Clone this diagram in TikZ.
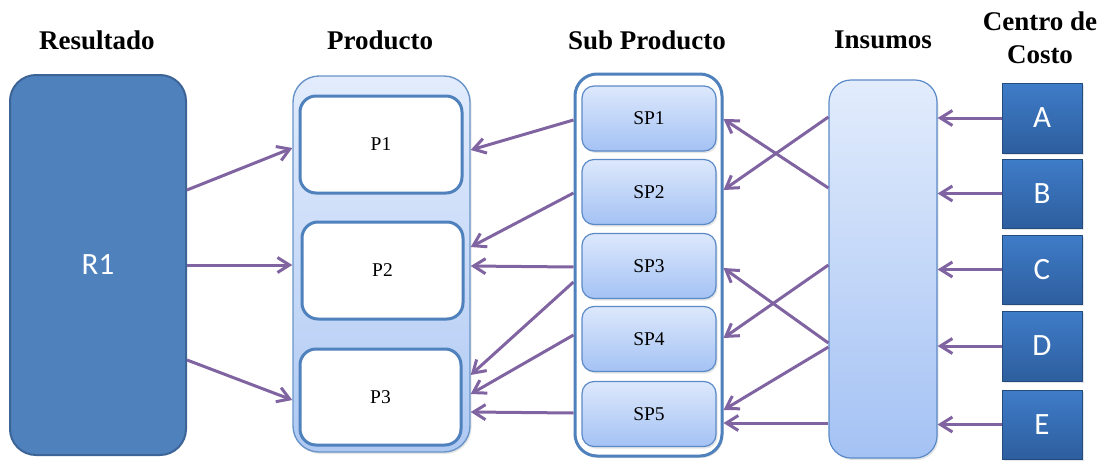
\documentclass[tikz,border=0pt]{standalone}
\usepackage{fontspec}
\setmainfont{Liberation Serif}
\newfontfamily\calfont{Carlito}
\usetikzlibrary{arrows.meta,shadows}
\definecolor{rblue}{HTML}{4F81BD}
\definecolor{rborder}{HTML}{3C6496}
\definecolor{arr}{HTML}{8064A2}
\definecolor{lighttop}{HTML}{E2ECFC}
\definecolor{lightbot}{HTML}{AFC9F3}
\definecolor{sptop}{HTML}{DDE8FC}
\definecolor{spbot}{HTML}{A4C2F4}
\definecolor{spborder}{HTML}{5B8AC8}
\definecolor{cctop}{HTML}{3F7CC8}
\definecolor{ccbot}{HTML}{2D5E9E}
\tikzset{
  header/.style={font=\bfseries\fontsize{27}{33}\selectfont, align=center},
  softshadow/.style={drop shadow={opacity=0.2, shadow xshift=1.5pt, shadow yshift=-2pt}},
  pbox/.style={draw=rblue, line width=3pt, fill=white, rounded corners=16pt,
    font=\fontsize{19.5}{21}\selectfont, inner sep=0pt},
  spbox/.style={draw=spborder, line width=1.2pt, top color=sptop, bottom color=spbot,
    rounded corners=12pt, minimum width=134pt, minimum height=65pt,
    font=\fontsize{19.5}{21}\selectfont, inner sep=0pt, softshadow},
  ccbox/.style={draw=ccbot!80!black, line width=0.6pt, top color=cctop, bottom color=ccbot,
    minimum width=80pt, minimum height=69pt, text=white,
    font=\calfont\fontsize{31}{33}\selectfont, inner sep=0pt, softshadow},
  link/.style={draw=arr, line width=3pt, -{Straight Barb[length=12pt,width=15pt,line width=3pt]}}
}
\begin{document}
\begin{tikzpicture}[x=1pt,y=-1pt]
\useasboundingbox (0,0) rectangle (1112,461);

% headers
\node[header] (hR) at (97,40) {Resultado};
\node[header] (hP) at (380,40) {Producto};
\node[header] (hS) at (647,40) {Sub Producto};
\node[header] (hI) at (883,40) {Insumos};
\node[header] (hC) at (1040,38) {Centro de\\Costo};

% result
\node[draw=rborder, line width=2pt, fill=rblue, rounded corners=26pt,
  minimum width=176pt, minimum height=380pt, text=white,
  font=\calfont\fontsize{31}{33}\selectfont] (R1) at (98,265) {R1};

% product container
\node[draw=rblue!85, line width=1.4pt, top color=lighttop, bottom color=lightbot,
  rounded corners=26pt, minimum width=177pt, minimum height=376pt, softshadow] (Pc) at (381.5,264) {};
\node[pbox, minimum width=162pt, minimum height=97pt] (P1) at (381,144.5) {P1};
\node[pbox, minimum width=161pt, minimum height=97pt] (P2) at (382.5,270.5) {P2};
\node[pbox, minimum width=161pt, minimum height=96pt] (P3) at (380.5,397) {P3};

% sub product container
\node[draw=rblue, line width=3pt, fill=white, rounded corners=22pt,
  minimum width=147pt, minimum height=382pt, softshadow] (SPc) at (648.5,265) {};
\node[spbox] (SP1) at (649,118.5) {SP1};
\node[spbox] (SP2) at (649,192) {SP2};
\node[spbox] (SP3) at (649,266) {SP3};
\node[spbox] (SP4) at (649,339) {SP4};
\node[spbox] (SP5) at (649,414) {SP5};

% insumos
\node[draw=spborder, line width=1.2pt, top color=lighttop, bottom color=spbot,
  rounded corners=22pt, minimum width=108pt, minimum height=378pt, softshadow] (Ins) at (883,269) {};

% cost centres
\node[ccbox, minimum height=70pt] (A) at (1042,118) {A};
\node[ccbox] (B) at (1042,193.5) {B};
\node[ccbox] (C) at (1042,269.5) {C};
\node[ccbox, minimum height=70pt] (D) at (1042,346) {D};
\node[ccbox] (E) at (1042,424.5) {E};

% R1 -> product
\draw[link] ([yshift=75pt]R1.east) -- ([yshift=116pt]Pc.west);
\draw[link] (R1.east) -- (R1.east -| Pc.west);
\draw[link] ([yshift=-95pt]R1.east) -- ([yshift=-136pt]Pc.west);

% sub product -> product
\draw[link] ([yshift=145pt]SPc.west) -- ([yshift=114pt]Pc.east);
\draw[link] ([yshift=72pt]SPc.west) -- ([yshift=17pt]Pc.east);
\draw[link] ([yshift=-2pt]SPc.west) -- ([yshift=-2pt]Pc.east);
\draw[link] ([yshift=-17pt]SPc.west) -- ([yshift=-111pt]Pc.east);
\draw[link] ([yshift=-70pt]SPc.west) -- ([yshift=-130pt]Pc.east);
\draw[link] ([yshift=-148pt]SPc.west) -- ([yshift=-148pt]Pc.east);

% insumos -> sub product
\draw[link] ([yshift=152pt]Ins.west) -- ([yshift=75pt]SPc.east);
\draw[link] ([yshift=81pt]Ins.west) -- ([yshift=146pt]SPc.east);
\draw[link] ([yshift=4pt]Ins.west) -- ([yshift=-73pt]SPc.east);
\draw[link] ([yshift=-74pt]Ins.west) -- ([yshift=-3pt]SPc.east);
\draw[link] ([yshift=-78pt]Ins.west) -- ([yshift=-145pt]SPc.east);
\draw[link] ([yshift=-154pt]Ins.west) -- ([yshift=-158pt]SPc.east);

% cost centres -> insumos
\draw[link] (A.west) -- (A.west -| Ins.east);
\draw[link] (B.west) -- (B.west -| Ins.east);
\draw[link] (C.west) -- (C.west -| Ins.east);
\draw[link] (D.west) -- (D.west -| Ins.east);
\draw[link] (E.west) -- (E.west -| Ins.east);
\end{tikzpicture}
\end{document}
